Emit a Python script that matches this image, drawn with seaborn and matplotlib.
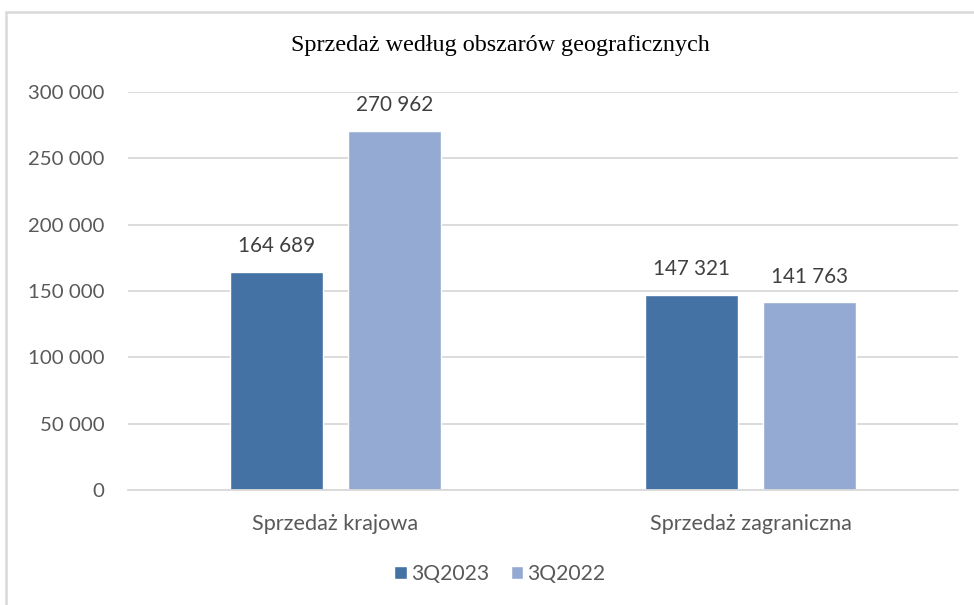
import matplotlib
matplotlib.use("Agg")
import matplotlib.pyplot as plt
from matplotlib.patches import Rectangle
from matplotlib.ticker import FuncFormatter, MultipleLocator
import seaborn as sns
import pandas as pd

categories = ["Sprzedaż krajowa", "Sprzedaż zagraniczna"]
series_names = ["3Q2023", "3Q2022"]
values_2023 = [164689, 147321]
values_2022 = [270962, 141763]
title = "Sprzedaż według obszarów geograficznych"

colors = ["#4472A5", "#95AAD3"]

df = pd.DataFrame({
    "category": categories * 2,
    "series": [series_names[0]] * 2 + [series_names[1]] * 2,
    "value": values_2023 + values_2022,
})

sns.set_theme(style="white")
plt.rcParams["font.family"] = ["Lato", "DejaVu Sans"]

fig = plt.figure(figsize=(9.74, 6.05), dpi=100)
ax = fig.add_axes([128 / 974, 1 - 490 / 605, (958 - 128) / 974, (490 - 92) / 605])

sns.barplot(data=df, x="category", y="value", hue="series", palette=colors,
            width=0.571, gap=0.214, ax=ax, saturation=1, legend=True)

def fmt(v):
    return f"{v:,.0f}".replace(",", " ")

ax.set_ylim(0, 300000)
ax.yaxis.set_major_locator(MultipleLocator(50000))
ax.yaxis.set_major_formatter(FuncFormatter(lambda v, p: fmt(v)))
ax.set_xlim(-0.5, 1.5)
ax.grid(axis="y", color="#D9D9D9", linewidth=1.3)
ax.set_axisbelow(True)
for s in ["left", "right", "top"]:
    ax.spines[s].set_visible(False)
ax.spines["bottom"].set_color("#D9D9D9")
ax.spines["bottom"].set_linewidth(1.3)
ax.set_xlabel("")
ax.set_ylabel("")
ax.tick_params(axis="y", length=0, pad=17, labelsize=14.7, labelcolor="#595959")
ax.tick_params(axis="x", length=0, pad=17, labelsize=15.6, labelcolor="#595959")

for cont in ax.containers:
    ax.bar_label(cont, labels=[fmt(b.get_height()) for b in cont], padding=11,
                 fontsize=14.9, color="#404040")

handles, labels = ax.get_legend_handles_labels()
ax.legend_.remove()
fig.legend(handles, labels, loc="center", bbox_to_anchor=(500 / 974, 1 - 574 / 605),
           ncol=2, frameon=False, fontsize=15.2, labelcolor="#595959",
           handlelength=0.6, handleheight=0.6, handletextpad=0.2, columnspacing=1.0)

fig.text(500 / 974, 1 - 45 / 605, title, ha="center", va="center",
         fontsize=17.4, family=["Liberation Serif", "DejaVu Serif"], color="#000000")

fig.patches.append(Rectangle((5.5 / 974, -0.1), 1.2, 1.1 - 11.5 / 605 + 0.0,
                             transform=fig.transFigure, fill=False,
                             edgecolor="#D9D9D9", linewidth=1.8))

fig.savefig("out.png", dpi=100)
